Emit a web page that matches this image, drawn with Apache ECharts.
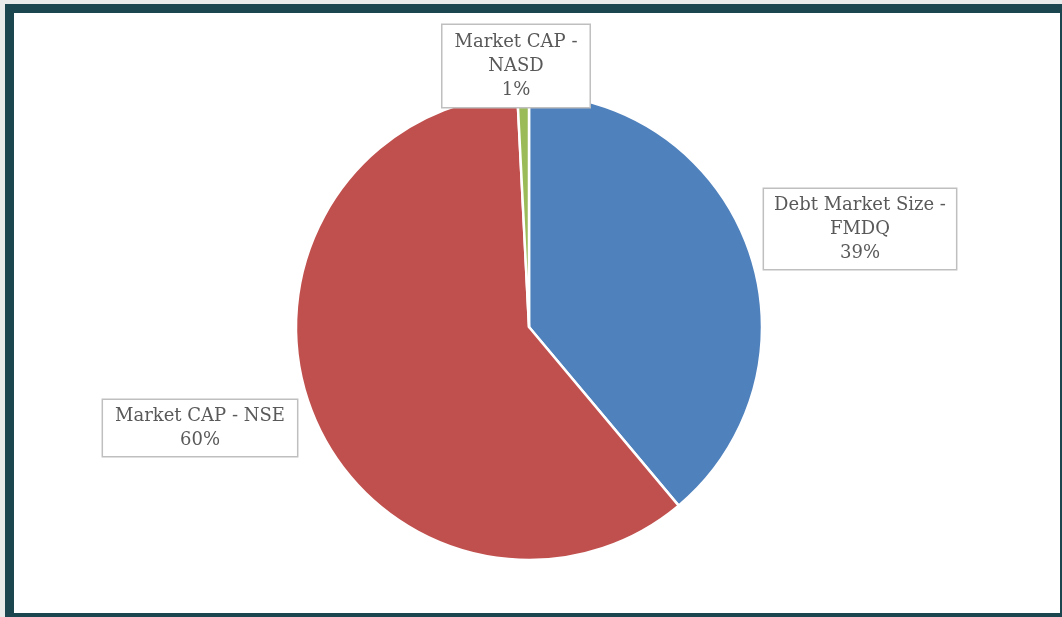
<!DOCTYPE html>
<html>
<head>
<meta charset="utf-8">
<script src="https://cdn.jsdelivr.net/npm/echarts@6/dist/echarts.min.js"></script>
<style>
  html, body { margin: 0; padding: 0; width: 1062px; height: 617px; overflow: hidden; background: #e9eaea; }
  #frame { position: absolute; left: 5px; top: 4px; width: 1057px; height: 613px; background: #1b4650; }
  #inner { position: absolute; left: 14px; top: 13px; width: 1046px; height: 600px; background: #ffffff; }
  #chart { position: absolute; left: 0; top: 0; width: 1062px; height: 617px; }
</style>
</head>
<body>
<div id="frame"></div>
<div id="inner"></div>
<div id="chart"></div>
<script>
const categories = ['Debt Market Size - FMDQ', 'Market CAP - NSE', 'Market CAP - NASD'];
const displayLabels = ['Debt Market Size -\nFMDQ', 'Market CAP - NSE', 'Market CAP -\nNASD'];
const values = [38.9, 60.3, 0.8];
const colors = ['#4f81bd', '#c0504d', '#9bbb59'];

const labelCenters = [[860, 229], [200, 428], [516, 66]];
const labelPadding = [[4, 10], [4, 12], [5, 12]];

const chart = echarts.init(document.getElementById('chart'), null, { renderer: 'canvas' });
const total = values.reduce((a, b) => a + b, 0);

chart.setOption({
  animation: false,
  backgroundColor: 'transparent',
  series: [{
    type: 'pie',
    center: [529, 327],
    radius: [0, 233],
    startAngle: 90,
    clockwise: true,
    avoidLabelOverlap: false,
    itemStyle: { borderColor: '#ffffff', borderWidth: 2.5 },
    labelLine: { show: false },
    label: {
      show: true,
      position: 'outside',
      fontFamily: 'DejaVu Serif',
      fontSize: 18,
      lineHeight: 24,
      color: '#595959',
      align: 'center',
      backgroundColor: '#ffffff',
      borderColor: '#bfbfbf',
      borderWidth: 1.5,
      formatter: function (p) {
        return displayLabels[p.dataIndex] + '\n' + Math.round(p.value / total * 100) + '%';
      }
    },
    labelLayout: function (params) {
      const c = labelCenters[params.dataIndex];
      return { x: c[0], y: c[1], align: 'center', verticalAlign: 'middle' };
    },
    data: categories.map((name, i) => ({
      name: name,
      value: values[i],
      itemStyle: { color: colors[i] },
      label: { padding: labelPadding[i] }
    }))
  }]
});
</script>
</body>
</html>
